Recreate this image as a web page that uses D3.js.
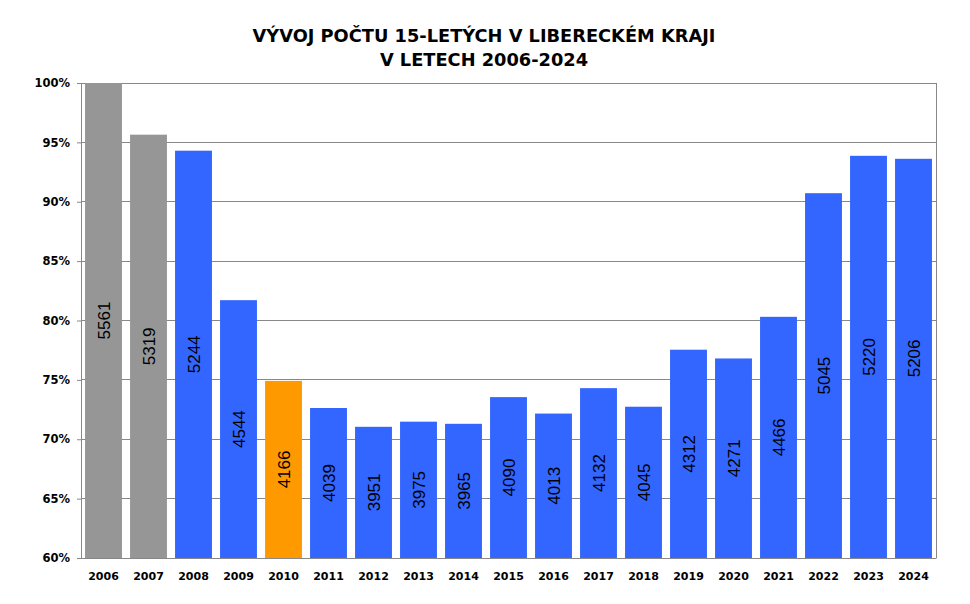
<!DOCTYPE html>
<html><head><meta charset="utf-8">
<script src="https://cdn.jsdelivr.net/npm/d3@7"></script>
<style>body{margin:0;background:#fff}</style>
</head><body>
<svg id="c" width="970" height="604"></svg>
<script>
const years = ["2006","2007","2008","2009","2010","2011","2012","2013","2014","2015","2016","2017","2018","2019","2020","2021","2022","2023","2024"];
const counts = [5561,5319,5244,4544,4166,4039,3951,3975,3965,4090,4013,4132,4045,4312,4271,4466,5045,5220,5206];
const groups = ["past","past","normal","normal","highlight","normal","normal","normal","normal","normal","normal","normal","normal","normal","normal","normal","normal","normal","normal"];
const yTicks = [0.60,0.65,0.70,0.75,0.80,0.85,0.90,0.95,1.00];
const titleLines = ["VÝVOJ POČTU 15-LETÝCH V LIBERECKÉM KRAJI","V LETECH 2006-2024"];

const colors = {past:"#969696", normal:"#3366FF", highlight:"#FF9900"};
const base = counts[0];
const data = years.map((y,i)=>({year:y, count:counts[i], pct:counts[i]/base, group:groups[i]}));

const svg = d3.select("#c");
const L=81, R=936, T=83, B=558;
const x = d3.scaleBand().domain(years).range([L,R]).paddingInner(0.18).paddingOuter(0.09);
const y = d3.scaleLinear().domain([0.6,1.0]).range([B,T]);

// gridlines
svg.append("g").selectAll("line").data(yTicks).join("line")
  .attr("x1",L).attr("x2",R).attr("y1",d=>y(d)).attr("y2",d=>y(d))
  .attr("stroke","#888").attr("stroke-width",1).attr("shape-rendering","crispEdges");
// right border
svg.append("line").attr("x1",R).attr("x2",R).attr("y1",T).attr("y2",B)
  .attr("stroke","#888").attr("shape-rendering","crispEdges");

// bars
svg.append("g").selectAll("rect").data(data).join("rect")
  .attr("x",d=>x(d.year)).attr("width",x.bandwidth())
  .attr("y",d=>y(d.pct)).attr("height",d=>B-y(d.pct))
  .attr("fill",d=>colors[d.group]);

// value labels
svg.append("g").selectAll("text").data(data).join("text")
  .attr("transform",d=>`translate(${x(d.year)+x.bandwidth()/2+6},${(y(d.pct)+B)/2}) rotate(-90)`)
  .attr("text-anchor","middle")
  .attr("font-family","Liberation Sans, Arial, sans-serif")
  .attr("font-size",17)
  .attr("fill","#000")
  .text(d=>d.count);

// y axis
const yAxis = d3.axisLeft(y).tickValues(yTicks).tickFormat(d3.format(".0%")).tickSize(4).tickPadding(7);
const gy = svg.append("g").attr("transform",`translate(${L},0)`).call(yAxis);
gy.select(".domain").attr("stroke","#888");
gy.selectAll(".tick line").attr("stroke","#888");
gy.selectAll("text").attr("font-family","DejaVu Sans, Verdana, sans-serif").attr("font-weight","bold").attr("font-size",11.5).attr("fill","#000");

// x axis
const xAxis = d3.axisBottom(x).tickSize(0).tickPadding(14);
const gx = svg.append("g").attr("transform",`translate(0,${B})`).call(xAxis);
gx.select(".domain").attr("stroke","#888");
gx.selectAll("text").attr("font-family","DejaVu Sans, Verdana, sans-serif").attr("font-weight","bold").attr("font-size",11).attr("fill","#000");

// title
svg.append("g").selectAll("text").data(titleLines).join("text")
  .attr("x",484).attr("y",(d,i)=>42+i*23.5)
  .attr("text-anchor","middle")
  .attr("font-family","DejaVu Sans, Verdana, sans-serif")
  .attr("font-weight","bold").attr("font-size",17.8).attr("fill","#000")
  .text(d=>d);
</script>
</body></html>
